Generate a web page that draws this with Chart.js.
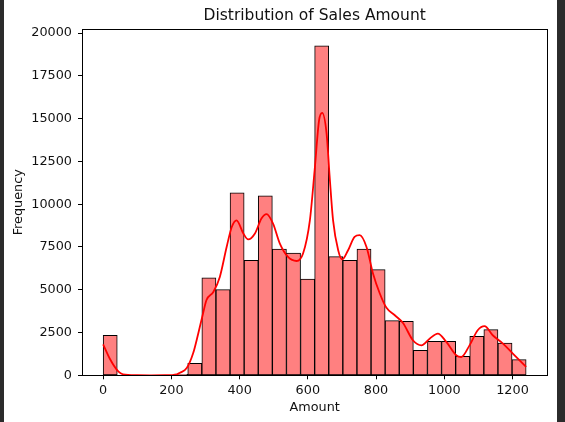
<!DOCTYPE html>
<html><head><meta charset="utf-8">
<script src="https://cdn.jsdelivr.net/npm/chart.js@4.4.1/dist/chart.umd.min.js"></script>
<style>html,body{margin:0;padding:0;background:#fff;overflow:hidden}canvas{display:block}</style>
</head><body>
<canvas id="c" width="565" height="422" style="width:565px;height:422px"></canvas>
<script>
const TITLE = 'Distribution of Sales Amount';
const X_LABEL = 'Amount';
const Y_LABEL = 'Frequency';
const binMin = 0;
const binMax = 1240;
const binCounts = [2340,0,0,0,0,60,700,5690,5010,10660,6725,10490,7370,7150,5630,19260,6940,6725,7370,6180,3200,3160,1460,1990,1990,1110,2280,2670,1890,918];
const kdeX = [0,20,45,58,100,137,180,216,225,245,264,279,293,303,323,342,362,377,391,411,425,445,464,479,498,518,542,567,586,606,620,633,642,655,664,674,689,701,718,737,752,772,791,811,830,855,879,908,933,957,981,1006,1035,1050,1074,1098,1118,1142,1172,1201,1240];
const kdeY = [1810,950,210,60,5,0,5,60,150,420,1300,2460,3630,4400,4870,5750,7500,8670,9060,8290,7940,8290,9160,9420,8870,7700,6920,6680,7120,9060,11990,14910,15340,14130,11600,9060,7310,6770,7310,8090,8190,7500,5950,4780,3960,3510,3060,2050,1750,2140,2440,1950,1170,1070,1750,2630,2870,2340,1850,1270,490];
const xTicks = [0,200,400,600,800,1000,1200];
const yTicks = [0,2500,5000,7500,10000,12500,15000,17500,20000];

const FONT = 'DejaVu Sans';
const binW = (binMax - binMin) / binCounts.length;
const barData = binCounts.map((v, i) => ({x: binMin + binW * (i + 0.5), y: v}));
const kdeData = kdeX.map((x, i) => ({x: x, y: kdeY[i]}));
const xPad = (binMax - binMin) * 0.05;
const yTop = Math.max(...binCounts) * 1.05;

const frame = {
  id: 'frame',
  beforeDraw(chart) {
    const c = chart.ctx;
    c.save();
    c.fillStyle = '#fff';
    c.fillRect(0, 0, chart.width, chart.height);
    c.fillStyle = '#2b2b2b';
    c.fillRect(0, 0, 4, chart.height);
    c.fillRect(557, 0, chart.width - 557, chart.height);
    c.restore();
  },
  afterDraw(chart) {
    const a = chart.chartArea, c = chart.ctx;
    c.save();
    c.strokeStyle = '#000';
    c.lineWidth = 1;
    c.strokeRect(Math.round(a.left) + 0.5, Math.round(a.top) + 0.5, Math.round(a.right - a.left), Math.round(a.bottom - a.top));
    c.fillStyle = '#111';
    c.font = '15.5px "' + FONT + '"';
    c.textAlign = 'center';
    c.textBaseline = 'middle';
    c.fillText(TITLE, (a.left + a.right) / 2, 15.5);
    c.restore();
  }
};

new Chart(document.getElementById('c'), {
  data: {
    datasets: [
      {
        type: 'line', data: kdeData, borderColor: '#ff0000', borderWidth: 1.8,
        pointRadius: 0, cubicInterpolationMode: 'monotone', fill: false, order: 0
      },
      {
        type: 'bar', data: barData, backgroundColor: '#ff8080', borderColor: '#000',
        borderWidth: ctx => (ctx.raw && ctx.raw.y > 0 ? 1 : 0), borderSkipped: false,
        barPercentage: 1, categoryPercentage: 1, order: 1
      }
    ]
  },
  options: {
    responsive: false, animation: false, devicePixelRatio: 1,
    layout: {padding: {top: 29.3, right: 17.7, left: 0, bottom: 0}},
    plugins: {legend: {display: false}, tooltip: {enabled: false}, title: {display: false}},
    scales: {
      x: {
        type: 'linear', min: binMin - xPad, max: binMax + xPad, offset: false,
        afterBuildTicks: s => { s.ticks = xTicks.map(v => ({value: v})); },
        afterFit: s => { s.height = 46.7; },
        grid: {display: true, offset: false, drawOnChartArea: false, drawTicks: true, tickLength: 4, color: '#000'},
        border: {display: true, color: '#000', width: 1},
        ticks: {color: '#111', font: {family: FONT, size: 12.8}, padding: 4, maxRotation: 0, autoSkip: false, callback: v => String(v)},
        title: {display: true, text: X_LABEL, color: '#111', font: {family: FONT, size: 12.8}, padding: {top: 0, bottom: 6.3}}
      },
      y: {
        type: 'linear', min: 0, max: yTop,
        afterBuildTicks: s => { s.ticks = yTicks.map(v => ({value: v})); },
        afterFit: s => { s.width = 82; },
        grid: {display: true, drawOnChartArea: false, drawTicks: true, tickLength: 4, color: '#000'},
        border: {display: true, color: '#000', width: 1},
        ticks: {color: '#111', font: {family: FONT, size: 12.8}, padding: 6, autoSkip: false, callback: v => String(v)},
        title: {display: true, text: Y_LABEL, color: '#111', font: {family: FONT, size: 12.8}, padding: {top: 11.3, bottom: 0}}
      }
    }
  },
  plugins: [frame]
});
</script>
</body></html>
